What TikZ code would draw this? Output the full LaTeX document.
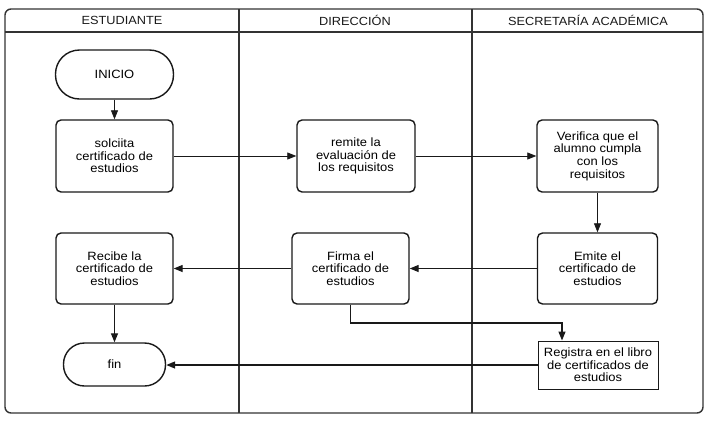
\documentclass[tikz,border=0pt]{standalone}
\usepackage{fontspec}
\setmainfont[FakeStretch=1.08]{Liberation Sans}
\usetikzlibrary{arrows.meta}
\tikzset{
  lanetxt/.style={font=\fontsize{11.8}{12.6}\selectfont, text=black!90},
  procbox/.style={draw=black!90, line width=1.4pt, rounded corners=5pt, align=center,
    inner sep=0pt, font=\fontsize{12}{12.6}\selectfont, text=black},
  termbox/.style={draw=black!90, line width=1.4pt, align=center, inner sep=0pt,
    font=\fontsize{12}{12.6}\selectfont, text=black},
  thinarrow/.style={draw=black!90, line width=0.8pt, -{Triangle[length=9pt,width=7pt]}},
  thickarrow/.style={draw=black!90, line width=1.3pt, -{Triangle[length=9pt,width=7pt]}},
  frameline/.style={draw=black!80, line width=1.4pt}
}
\begin{document}
\begin{tikzpicture}[x=1pt,y=-1pt]
\useasboundingbox (0,0) rectangle (713,424);
\fill[white] (0,0) rectangle (713,424);
% frame and lanes
\draw[frameline, rounded corners=6pt] (5,9) rectangle (703,413);
\draw[frameline] (5,32) -- (703,32);
\draw[frameline] (239,9) -- (239,413);
\draw[frameline] (472,9) -- (472,413);
\node[lanetxt] (h1) at (122,20.5) {ESTUDIANTE};
\node[lanetxt] (h2) at (355,20.5) {DIRECCIÓN};
\node[lanetxt] (h3) at (588,20.5) {SECRETARÍA ACADÉMICA};
% nodes
\node[termbox, rounded corners=24pt, minimum width=118pt, minimum height=49pt] (inicio) at (114.5,74.5) {INICIO};
\node[procbox, minimum width=117pt, minimum height=72pt] (solc) at (114.5,156) {solciita\\certificado de\\estudios};
\node[procbox, minimum width=118pt, minimum height=72pt] (remite) at (356,156) {remite la\\evaluación de\\los requisitos};
\node[procbox, minimum width=121pt, minimum height=72pt] (verif) at (597.5,156) {Verifica que el\\alumno cumpla\\con los\\requisitos};
\node[procbox, minimum width=120pt, minimum height=71pt] (emite) at (597.5,268.5) {Emite el\\certificado de\\estudios};
\node[procbox, minimum width=117pt, minimum height=71pt] (firma) at (350.5,268.5) {Firma el\\certificado de\\estudios};
\node[procbox, minimum width=117pt, minimum height=71pt] (recibe) at (114.5,268.5) {Recibe la\\certificado de\\estudios};
\node[termbox, rounded corners=21pt, minimum width=102pt, minimum height=43pt] (fin) at (114.5,364.5) {fin};
\node[termbox, line width=1pt, minimum width=120pt, minimum height=48pt] (reg) at (598,365) {Registra en el libro\\de certificados de\\estudios};
% connectors
\draw[thinarrow] (inicio.south) -- (solc.north);
\draw[thinarrow] (solc.east) -- (remite.west);
\draw[thinarrow] (remite.east) -- (verif.west);
\draw[thinarrow] (verif.south) -- (emite.north);
\draw[thickarrow] (emite.west) -- (firma.east);
\draw[thickarrow] (firma.west) -- (recibe.east);
\draw[thickarrow] (recibe.south) -- (fin.north);
\coordinate (rk) at (562,323);
\draw[thickarrow] (firma.south) |- (rk) -- (rk |- reg.north);
\draw[thickarrow] (reg.west) -- (reg.west -| fin.east);
\end{tikzpicture}
\end{document}
